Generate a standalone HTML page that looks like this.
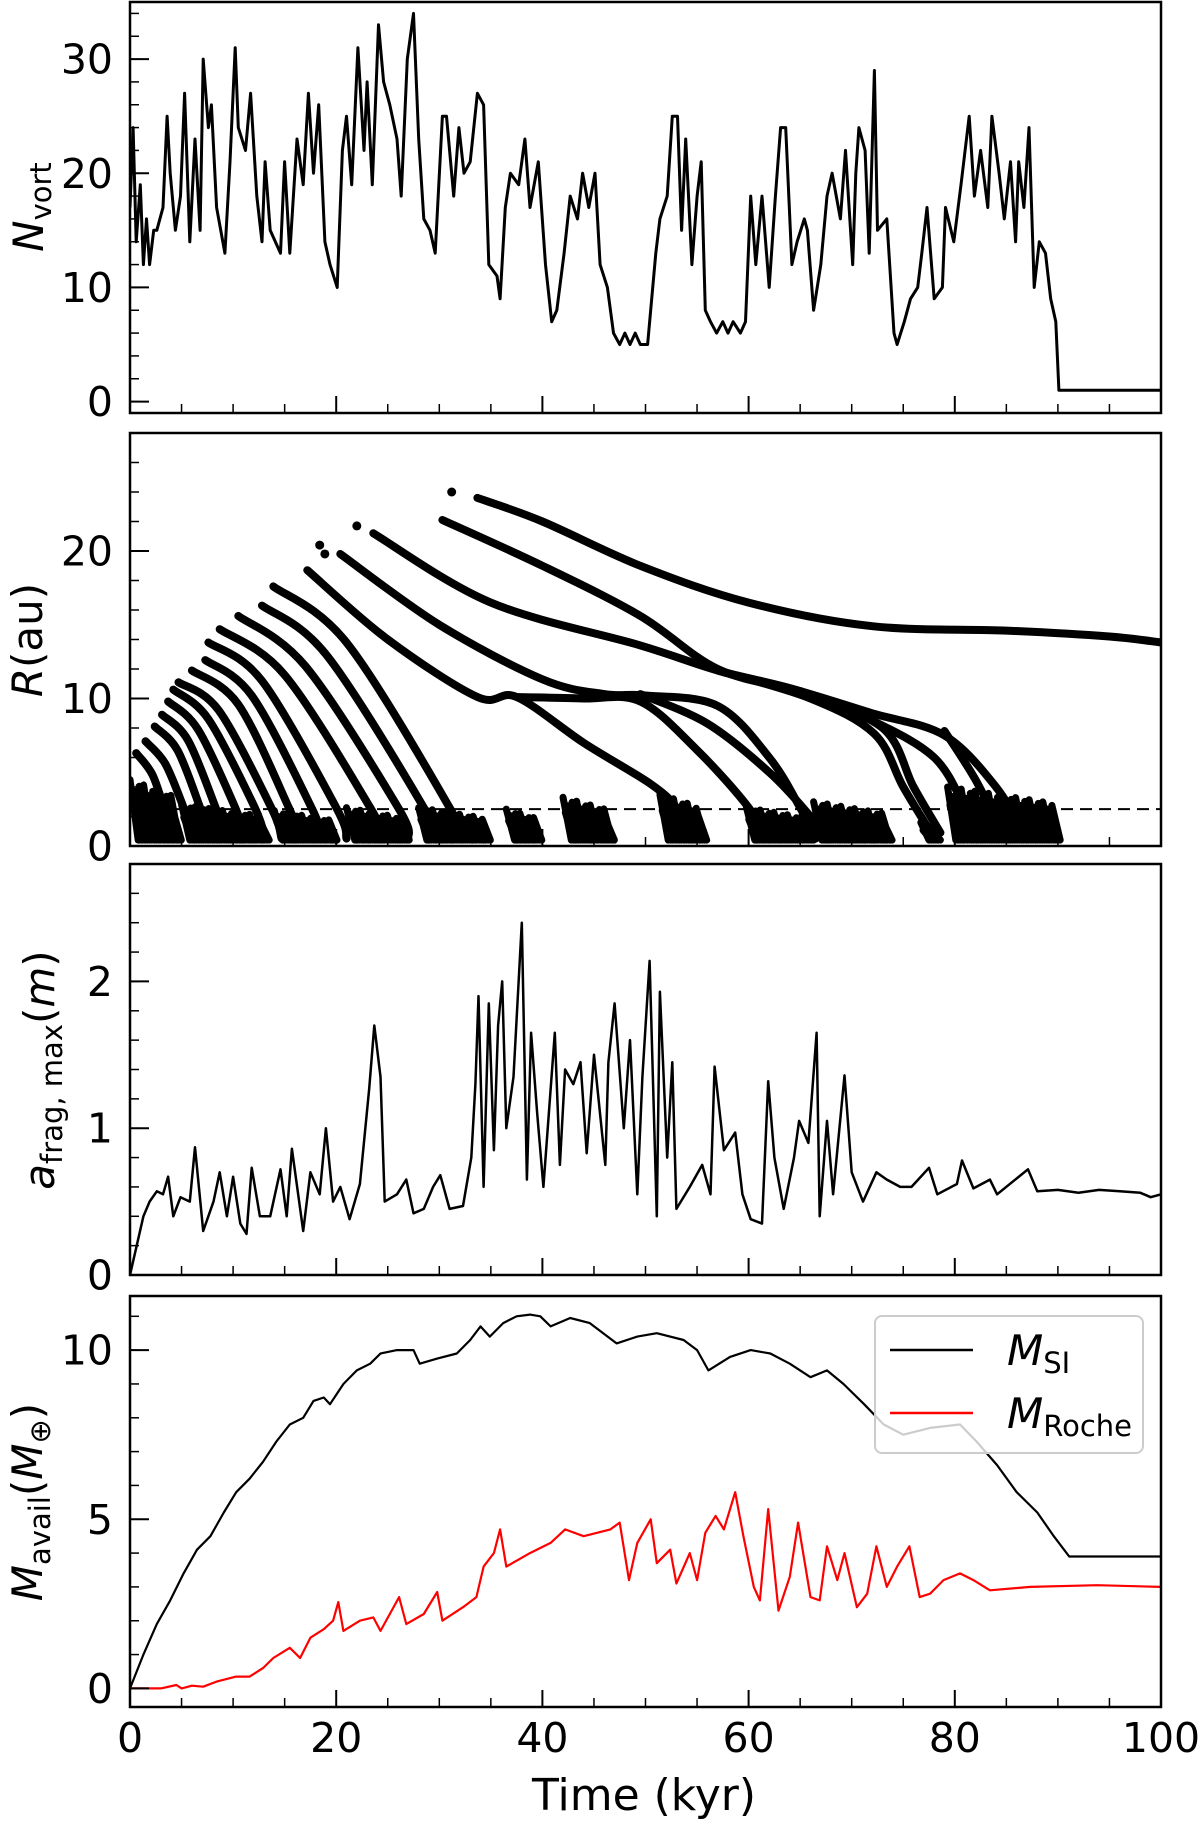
<!DOCTYPE html>
<html><head><meta charset="utf-8">
<style>
html,body{margin:0;padding:0;background:#fff;}
svg{display:block;font-family:"DejaVu Sans","Liberation Sans",sans-serif;}
</style></head>
<body>
<svg id="fig" width="1200" height="1821" viewBox="0 0 1200 1821" xmlns="http://www.w3.org/2000/svg">
<rect x="0" y="0" width="1200" height="1821" fill="#fff"/>
</svg>
<script>
// ---------- Panel 1: number of vortices ----------
const tN = [0,0.3,0.6,1.0,1.3,1.6,1.9,2.3,2.6,3.2,3.6,3.9,4.4,4.9,5.3,5.8,6.3,6.8,7.1,7.6,
7.9,8.4,9.2,9.7,10.2,10.5,11.2,11.7,12.3,12.8,13.1,13.6,14.6,15.0,15.5,16.2,16.8,17.3,17.8,18.3,
18.9,19.4,20.1,20.6,21.0,21.5,22.1,22.7,23.0,23.5,24.1,24.6,25.2,25.9,26.3,26.9,27.5,28.0,28.5,29.1,
29.6,30.3,30.7,31.4,31.9,32.4,33.0,33.7,34.3,34.8,35.6,35.9,36.4,36.9,37.7,38.3,38.8,39.6,40.3,40.9,
41.4,42.1,42.7,43.4,43.9,44.5,45.1,45.6,46.3,46.9,47.5,48.0,48.5,49.0,49.5,50.2,51.0,51.4,52.1,52.6,
53.1,53.5,53.9,54.5,55.0,55.4,55.8,56.3,56.9,57.5,58.0,58.5,59.2,59.7,60.2,60.7,61.3,62.0,62.6,63.1,
63.6,64.2,64.7,65.4,65.7,66.3,67.0,67.6,68.1,68.9,69.4,70.1,70.4,70.7,71.3,71.7,72.2,72.5,73.4,74.1,
74.4,75.1,75.7,76.4,76.8,77.3,78.0,78.8,79.1,79.9,80.6,81.4,81.9,82.5,83.2,83.6,84.3,84.8,85.4,85.9,
86.2,86.7,87.2,87.7,88.2,88.8,89.3,89.8,90.1,100];
const vN = [17,24,14,19,12,16,12,15,15,17,25,20,15,18,27,14,23,15,30,24,
26,17,13,21,31,24,22,27,18,14,21,15,13,21,13,23,19,27,20,26,
14,12,10,22,25,19,31,22,28,19,33,28,26,23,18,30,34,23,16,15,
13,25,25,18,24,20,21,27,26,12,11,9,17,20,19,23,17,21,12,7,
8,13,18,16,20,17,20,12,10,6,5,6,5,6,5,5,13,16,18,25,
25,15,23,12,18,21,8,7,6,7,6,7,6,7,18,12,18,10,18,24,
24,12,14,16,15,8,12,18,20,16,22,12,20,24,22,13,29,15,16,6,
5,7,9,10,13,17,9,10,17,14,19,25,18,22,17,25,20,16,21,14,
21,17,24,10,14,13,9,7,1,1];

// ---------- Panel 2: vortex radial tracks (t [kyr], R [au]) ----------
const trackTimes = [
 [0.6,2.2,3.6,4.6],[1.5,3.4,5.2,6.2],[2.4,4.6,6.8,7.8],[3.1,5.6,8.3,9.3],[3.7,6.6,10.2,11.2],[4.2,7.6,12.1,13.1],
 [4.7,8.6,13.7,14.7],[6,10.5,15.4,16.5],[7.3,11.8,17.6,18.6],[7.6,12.8,20,21],[8.7,15,23.3,24.5],
 [10.5,17,26,27],[12.8,19,28.5,29.5],[13.9,21,31,32],
 [17.2,25,33.7,37.5,44,50.5,53,54.5],
 [20.4,30,40,46,50,57,62,65,66.5],
 [23.6,35,49.5,57,65,72,78,81,82.5],
 [30.3,40,49.5,57,65,72,79,84,86.5],
 [33.7,40,49.5,60,72,85,95,100],
 [79,82,84.5],
 [37.5,44,49.5,55,60,61.5],
 [49.5,56,62,66,67.5],
 [57,66,72.2,75,77.7],
 [65,73,76,78.6]
];
const trackRadii = [
 [6.3,4.8,2.0,0.5],[7.1,5.6,2.6,0.5],[8.1,6.5,2.6,0.5],[8.9,7.2,2.6,0.5],[9.8,7.9,2.6,0.5],[10.6,8.6,2.6,0.5],
 [11.1,9.2,2.6,0.5],[11.9,9.6,2.6,0.5],[12.6,10.2,2.6,0.5],[13.8,11.2,2.6,0.5],[14.7,11.6,2.6,0.5],
 [15.6,12.2,2.6,0.5],[16.3,13.0,2.6,0.5],[17.6,13.8,2.6,0.5],
 [18.7,14,10.1,10.1,7,4.2,2.6,0.5],
 [19.8,15,11.3,10.3,10.2,9.5,6,2.6,0.5],
 [21.2,16.5,13.6,11.9,10.5,8.5,6,2.6,0.5],
 [22.1,19,15.6,12,10.5,9,7.5,4,1],
 [23.6,22,19,16.5,14.9,14.6,14.2,13.8],
 [7.8,4.5,1],
 [10.1,10,9.8,6.5,2.6,0.5],
 [10.3,8.3,5,2,0.5],
 [11.9,10,7.6,4,0.9],
 [10.5,8,4,0.9]
];
const strayT = [31.2,22.0,18.4,18.9];
const strayR = [24.0,21.7,20.4,19.8];
const clumpStart = [0,5,14,21,28,36.5,42,51.4,59.8,66.3,76.7,79.3];
const clumpEnd   = [5,13.5,20,27,35,40,47,56,66.3,74,78.6,90.3];
const clumpTop   = [4.5,2.8,2.4,2.6,2.6,2.5,3.3,3.5,2.6,3.0,1.6,4.0];
const roche = 2.5;

// ---------- Panel 3: a_frag,max ----------
const tA = [0,0.65,1.3,1.9,2.6,3.2,3.7,4.2,4.9,5.8,6.3,7.1,8.1,8.7,9.4,10,10.7,11.3,11.8,12.6,
13.6,14.6,15.2,15.7,16.8,17.5,18.4,19.0,19.7,20.4,21.3,22.3,23.2,23.7,24.3,24.7,25.9,26.8,27.5,28.5,
29.4,30.1,31.0,32.3,33.1,33.5,33.8,34.3,34.8,35.3,35.7,36.1,36.5,37.2,38.0,38.5,38.9,39.5,40.1,41.2,
41.7,42.2,43.0,43.7,44.3,45.0,46.1,46.4,47.0,47.9,48.5,49.2,49.7,50.4,51.1,51.4,52.1,52.6,53.0,54.3,
55.5,56.3,56.7,57.6,58.7,59.4,60.2,61.3,61.9,62.5,63.4,64.4,64.9,65.8,66.6,66.9,67.6,68.2,69.3,70.0,
71.1,72.4,73.4,74.7,75.8,77.5,78.3,80.2,80.7,81.8,83.4,84.1,87.1,88.0,90,92,94,96,98,99,100];
const vA = [0.0,0.2,0.4,0.5,0.57,0.55,0.67,0.4,0.53,0.5,0.87,0.3,0.5,0.7,0.4,0.67,0.35,0.28,0.73,0.4,
0.4,0.72,0.4,0.86,0.3,0.7,0.55,1.0,0.5,0.6,0.38,0.62,1.27,1.7,1.35,0.5,0.55,0.65,0.42,0.45,
0.6,0.68,0.45,0.47,0.8,1.3,1.9,0.6,1.85,0.85,1.7,2.0,1.0,1.35,2.4,0.65,1.65,1.1,0.6,1.65,
0.75,1.4,1.3,1.45,0.83,1.5,0.75,1.45,1.85,1.0,1.6,0.55,1.35,2.14,0.4,1.93,0.8,1.45,0.45,0.6,
0.75,0.55,1.42,0.85,0.97,0.55,0.38,0.35,1.32,0.8,0.45,0.8,1.05,0.9,1.65,0.4,1.05,0.55,1.36,0.7,
0.5,0.7,0.65,0.6,0.6,0.73,0.55,0.62,0.78,0.59,0.65,0.55,0.72,0.57,0.58,0.56,0.58,0.57,0.56,0.53,0.55];

// ---------- Panel 4: available mass ----------
const tSI = [0,1.3,2.6,3.9,5.2,6.5,7.8,9.1,10.3,11.6,12.9,14.2,15.5,16.8,17.8,18.8,19.4,20.7,22.0,23.3,
24.3,25.9,27.5,28.1,29.8,31.7,33.0,34.0,34.9,36.2,37.5,38.8,39.8,40.8,42.7,44.6,47.2,49.2,51.1,53.7,
55.0,56.1,58.2,60.2,62.1,64.0,66.0,67.6,69.2,71.2,73.1,75.0,77.6,80.5,82.1,84.1,86.0,88.0,89.6,91.1,100];
const vSI = [0,1.0,1.9,2.6,3.4,4.1,4.5,5.2,5.8,6.2,6.7,7.3,7.8,8.0,8.5,8.6,8.4,9.0,9.4,9.6,
9.9,10.0,10.0,9.6,9.75,9.9,10.3,10.7,10.4,10.8,11.0,11.05,11.0,10.7,10.95,10.8,10.2,10.4,10.5,10.3,
10.0,9.4,9.8,10.0,9.9,9.6,9.2,9.4,9.0,8.4,7.8,7.5,7.7,7.8,7.3,6.6,5.8,5.2,4.5,3.9,3.9];
const tRo = [0,3,4.5,5,6,7.1,8.4,10.3,11.6,12.9,13.9,15.5,16.5,17.5,18.8,19.7,20.2,20.7,22.3,23.6,
24.3,25.2,26.1,26.8,28.5,29.8,30.3,32.3,33.6,34.3,35.3,35.9,36.5,38.8,40.8,42.2,44.0,46.6,47.5,48.4,
49.2,50.5,51.1,52.4,53.0,54.3,55.0,55.8,56.8,57.6,58.7,59.5,60.5,61.1,61.9,62.9,64.0,64.8,66.0,66.9,
67.6,68.6,69.3,70.5,71.5,72.4,73.4,74.4,75.6,76.6,77.6,78.9,80.5,81.8,83.4,87.3,93.8,100];
const vRo = [0,0,0.1,0,0.08,0.05,0.2,0.35,0.35,0.6,0.9,1.2,0.9,1.5,1.75,2.0,2.55,1.7,2.0,2.1,
1.7,2.2,2.7,1.9,2.2,2.85,2.0,2.4,2.7,3.6,4.0,4.7,3.6,4.0,4.3,4.7,4.5,4.7,4.9,3.2,
4.3,5.0,3.7,4.1,3.1,4.0,3.2,4.6,5.1,4.7,5.8,4.5,3.0,2.6,5.3,2.3,3.3,4.9,2.7,2.6,
4.2,3.2,4.0,2.4,2.8,4.2,3.0,3.6,4.2,2.7,2.8,3.2,3.4,3.2,2.9,3.0,3.05,3.0];

const xTicksMajor = [0,20,40,60,80,100];
const xTickLabels = ["0","20","40","60","80","100"];

// ---------- layout ----------
const NS = "http://www.w3.org/2000/svg";
const svg = document.getElementById('fig');
const X0 = 130, X1 = 1161;
const xs = t => X0 + (t/100)*(X1-X0);
const panels = [
  {top:2,   bot:413,  y0:-1,   y1:35,   major:[0,10,20,30], labels:["0","10","20","30"], minorStep:2, name:'nvort'},
  {top:433, bot:846,  y0:0,    y1:28,   major:[0,10,20],    labels:["0","10","20"],     minorStep:2, name:'radius'},
  {top:864, bot:1275, y0:0,    y1:2.8,  major:[0,1,2],      labels:["0","1","2"],       minorStep:0.2, name:'afrag'},
  {top:1296,bot:1707, y0:-0.55,y1:11.6, major:[0,5,10],     labels:["0","5","10"],      minorStep:1, name:'mavail'}
];
panels.forEach(p => { p.ys = v => p.bot - (v - p.y0)/(p.y1 - p.y0)*(p.bot - p.top); });

function mk(tag, attrs, parent){
  const el = document.createElementNS(NS, tag);
  for (const k in attrs) el.setAttribute(k, attrs[k]);
  (parent || svg).appendChild(el);
  return el;
}
function pathFrom(ts, vs, xf, yf){
  let d = '';
  for (let i=0;i<ts.length;i++) d += (i?'L':'M') + xf(ts[i]).toFixed(1) + ',' + yf(vs[i]).toFixed(1);
  return d;
}
function smoothFrom(ts, vs, xf, yf){
  const P = ts.map((t,i)=>[xf(t), yf(vs[i])]);
  let d = 'M' + P[0][0].toFixed(1) + ',' + P[0][1].toFixed(1);
  for (let i=0;i<P.length-1;i++){
    const p0 = P[Math.max(0,i-1)], p1 = P[i], p2 = P[i+1], p3 = P[Math.min(P.length-1,i+2)];
    const c1 = [p1[0]+(p2[0]-p0[0])/6, p1[1]+(p2[1]-p0[1])/6];
    const c2 = [p2[0]-(p3[0]-p1[0])/6, p2[1]-(p3[1]-p1[1])/6];
    d += 'C' + c1[0].toFixed(1)+','+c1[1].toFixed(1)+' '+c2[0].toFixed(1)+','+c2[1].toFixed(1)+' '+p2[0].toFixed(1)+','+p2[1].toFixed(1);
  }
  return d;
}

const defs = mk('defs', {});
panels.forEach((p,i) => {
  const cp = mk('clipPath', {id:'clip'+i}, defs);
  mk('rect', {x:X0, y:p.top, width:X1-X0, height:p.bot-p.top}, cp);
});

// ---------- data marks ----------
const p1 = panels[0];
const g1 = mk('g', {'clip-path':'url(#clip0)'});


const lineN = mk('path', {d: pathFrom(tN, vN, xs, p1.ys), fill:'none', stroke:'#000', 'stroke-width':3, 'stroke-linejoin':'round'}, g1);



const p2 = panels[1];
const g2 = mk('g', {'clip-path':'url(#clip1)'});


for (let c=0;c<clumpStart.length;c++){
  let d = '';
  const span = clumpEnd[c]-clumpStart[c];
  let k = 0;
  for (let t=clumpStart[c]; t<=clumpEnd[c]-0.7; t+=0.22){
    const frac = (t-clumpStart[c])/span;
    const jitter = [1.0,0.7,0.85,0.6,0.95,0.75][k%6];
    const top = Math.max(0.9, clumpTop[c]*jitter*(1-0.3*frac));
    d += 'M' + xs(t).toFixed(1) + ',' + p2.ys(top).toFixed(1) + 'L' + xs(t+0.8).toFixed(1) + ',' + p2.ys(0.4).toFixed(1);
    k++;
  }
  const cl = mk('path', {d:d, fill:'none', stroke:'#000', 'stroke-width':7, 'stroke-linecap':'round'}, g2);
  
  
}
for (let k=0;k<trackTimes.length;k++){
  const tr = mk('path', {d: smoothFrom(trackTimes[k], trackRadii[k], xs, p2.ys), fill:'none', stroke:'#000', 'stroke-width':8, 'stroke-linecap':'round', 'stroke-linejoin':'round'}, g2);
  
  
}
for (let k=0;k<strayT.length;k++){
  const dot = mk('circle', {cx: xs(strayT[k]), cy: p2.ys(strayR[k]), r:4.5, fill:'#000'}, g2);
  
  
}
const rl = mk('line', {x1:X0, x2:X1, y1:p2.ys(roche), y2:p2.ys(roche), stroke:'#000', 'stroke-width':2, 'stroke-dasharray':'12,7'}, g2);



const p3 = panels[2];
const g3 = mk('g', {'clip-path':'url(#clip2)'});


const lineA = mk('path', {d: pathFrom(tA, vA, xs, p3.ys), fill:'none', stroke:'#000', 'stroke-width':2.5, 'stroke-linejoin':'round'}, g3);



const p4 = panels[3];
const g4 = mk('g', {'clip-path':'url(#clip3)'});


const lineSI = mk('path', {d: pathFrom(tSI, vSI, xs, p4.ys), fill:'none', stroke:'#000', 'stroke-width':2.2, 'stroke-linejoin':'round'}, g4);


const lineRo = mk('path', {d: pathFrom(tRo, vRo, xs, p4.ys), fill:'none', stroke:'#ff0000', 'stroke-width':2.2, 'stroke-linejoin':'round'}, g4);



// ---------- axes ----------
panels.forEach((p, i) => {
  const ga = mk('g', {});
  
  
  for (let t=0; t<=100.001; t+=5){
    const maj = (Math.round(t)%20===0);
    const L = maj ? 17 : 9;
    const tk = mk('line', {x1:xs(t), x2:xs(t), y1:p.bot, y2:p.bot-L, stroke:'#000', 'stroke-width':maj?2:1.5}, ga);
    
    
  }
  const nMin = Math.ceil((p.y0)/p.minorStep);
  for (let k=nMin; k*p.minorStep<=p.y1+1e-9; k++){
    const v = k*p.minorStep;
    const mt = mk('line', {x1:X0, x2:X0+9, y1:p.ys(v), y2:p.ys(v), stroke:'#000', 'stroke-width':1.5}, ga);
    
    
  }
  p.major.forEach((v, j) => {
    const yt = mk('line', {x1:X0, x2:X0+19, y1:p.ys(v), y2:p.ys(v), stroke:'#000', 'stroke-width':2}, ga);
    
    
    const lb = mk('text', {x:113, y:p.ys(v)+14.5, 'text-anchor':'end', 'font-size':41, fill:'#000'}, ga);
    lb.textContent = p.labels[j];
    
    
  });
  const fr = mk('rect', {x:X0, y:p.top, width:X1-X0, height:p.bot-p.top, fill:'none', stroke:'#000', 'stroke-width':2.5}, ga);
  
  
});

xTicksMajor.forEach((t, j) => {
  const lb = mk('text', {x:xs(t), y:1752, 'text-anchor':'middle', 'font-size':41, fill:'#000'});
  lb.textContent = xTickLabels[j];
  
  
});
const xt = mk('text', {x:644, y:1810, 'text-anchor':'middle', 'font-size':44, fill:'#000'});
xt.textContent = 'Time (kyr)';


</script>

<svg style="position:absolute;left:0;top:0" width="1200" height="1821" viewBox="0 0 1200 1821" xmlns="http://www.w3.org/2000/svg" font-family="DejaVu Sans, Liberation Sans, sans-serif">
  <text transform="translate(43,207) rotate(-90)" text-anchor="middle" font-size="42"><tspan font-style="italic">N</tspan><tspan font-size="29" dy="8">vort</tspan></text>
  <text transform="translate(42,640) rotate(-90)" text-anchor="middle" font-size="42"><tspan font-style="italic">R</tspan>(au)</text>
  <text transform="translate(54,1070) rotate(-90)" text-anchor="middle" font-size="42"><tspan font-style="italic">a</tspan><tspan font-size="29" dy="8">frag, max</tspan><tspan dy="-8">(</tspan><tspan font-style="italic">m</tspan>)</text>
  <text transform="translate(42,1502) rotate(-90)" text-anchor="middle" font-size="42"><tspan font-style="italic">M</tspan><tspan font-size="29" dy="8">avail</tspan><tspan dy="-8">(</tspan><tspan font-style="italic">M</tspan><tspan font-size="29" dy="8">⊕</tspan><tspan dy="-8">)</tspan></text>
  <g>
    <rect x="875" y="1316" width="268" height="137" rx="7" fill="#fff" fill-opacity="0.8" stroke="#cccccc" stroke-width="2"/>
    <g>
      <line x1="890" x2="973" y1="1350" y2="1350" stroke="#000" stroke-width="2.5"/>
      <text x="1007" y="1365" font-size="42"><tspan font-style="italic">M</tspan><tspan font-size="29" dy="8">SI</tspan></text>
    </g>
    <g>
      <line x1="890" x2="973" y1="1413" y2="1413" stroke="#ff0000" stroke-width="2.5"/>
      <text x="1007" y="1428" font-size="42"><tspan font-style="italic">M</tspan><tspan font-size="29" dy="8">Roche</tspan></text>
    </g>
  </g>
</svg>
</body></html>
